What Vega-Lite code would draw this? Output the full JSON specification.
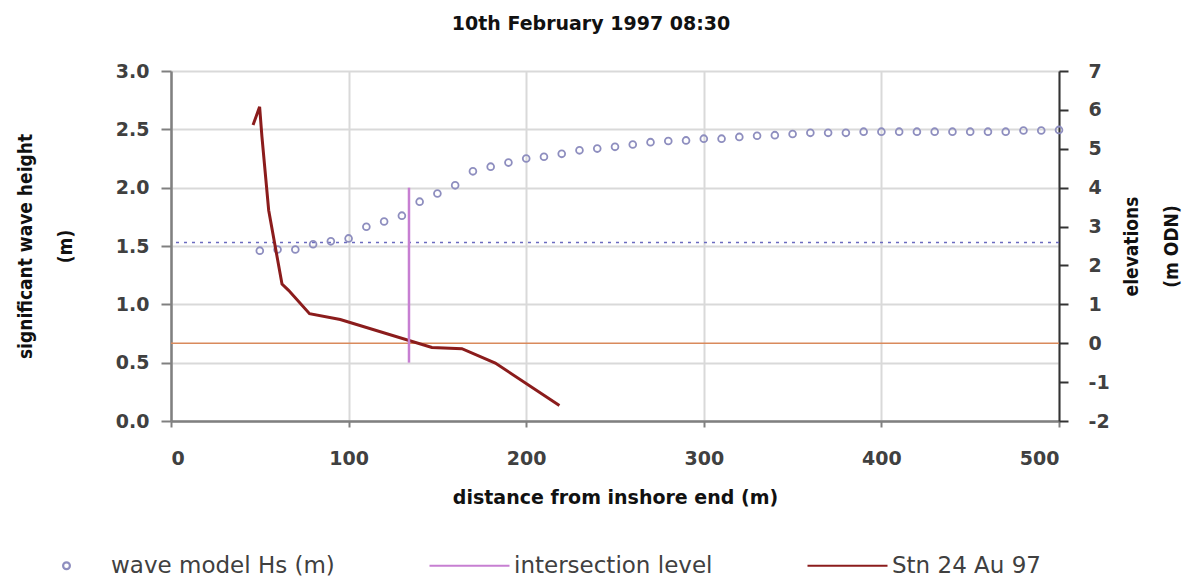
{
  "$schema": "https://vega.github.io/schema/vega-lite/v6.json",
  "width": 888,
  "height": 350,
  "autosize": {"type": "none"},
  "padding": {"left": 171, "top": 71, "right": 126, "bottom": 157},
  "background": "white",
  "config": {"view": {"stroke": null}},
  "title": {"text": "10th February 1997 08:30", "font": "DejaVu Sans", "fontSize": 19, "fontWeight": "bold", "color": "#111111", "anchor": "middle", "dx": -24, "offset": 28},
  "datasets": {
    "wave": [
      {"distance": 50, "hs": 1.46}, {"distance": 60, "hs": 1.47}, {"distance": 70, "hs": 1.47}, {"distance": 80, "hs": 1.515},
      {"distance": 90, "hs": 1.54}, {"distance": 100, "hs": 1.565}, {"distance": 110, "hs": 1.665}, {"distance": 120, "hs": 1.71},
      {"distance": 130, "hs": 1.76}, {"distance": 140, "hs": 1.88}, {"distance": 150, "hs": 1.95}, {"distance": 160, "hs": 2.02},
      {"distance": 170, "hs": 2.14}, {"distance": 180, "hs": 2.18}, {"distance": 190, "hs": 2.215}, {"distance": 200, "hs": 2.25},
      {"distance": 210, "hs": 2.265}, {"distance": 220, "hs": 2.29}, {"distance": 230, "hs": 2.32}, {"distance": 240, "hs": 2.335},
      {"distance": 250, "hs": 2.35}, {"distance": 260, "hs": 2.37}, {"distance": 270, "hs": 2.39}, {"distance": 280, "hs": 2.4},
      {"distance": 290, "hs": 2.405}, {"distance": 300, "hs": 2.42}, {"distance": 310, "hs": 2.42}, {"distance": 320, "hs": 2.435},
      {"distance": 330, "hs": 2.445}, {"distance": 340, "hs": 2.45}, {"distance": 350, "hs": 2.46}, {"distance": 360, "hs": 2.47},
      {"distance": 370, "hs": 2.47}, {"distance": 380, "hs": 2.47}, {"distance": 390, "hs": 2.48}, {"distance": 400, "hs": 2.48},
      {"distance": 410, "hs": 2.48}, {"distance": 420, "hs": 2.48}, {"distance": 430, "hs": 2.48}, {"distance": 440, "hs": 2.48},
      {"distance": 450, "hs": 2.48}, {"distance": 460, "hs": 2.48}, {"distance": 470, "hs": 2.48}, {"distance": 480, "hs": 2.49},
      {"distance": 490, "hs": 2.49}, {"distance": 500, "hs": 2.495}
    ],
    "profile": [
      {"i": 1, "distance": 46.2, "elev": 5.61}, {"i": 2, "distance": 49.9, "elev": 6.08}, {"i": 3, "distance": 51.2, "elev": 5.31},
      {"i": 4, "distance": 55.0, "elev": 3.42}, {"i": 5, "distance": 62.5, "elev": 1.52}, {"i": 6, "distance": 66.2, "elev": 1.36},
      {"i": 7, "distance": 78.0, "elev": 0.76}, {"i": 8, "distance": 95.3, "elev": 0.61}, {"i": 9, "distance": 146.9, "elev": -0.11},
      {"i": 10, "distance": 163.8, "elev": -0.14}, {"i": 11, "distance": 182.6, "elev": -0.51}, {"i": 12, "distance": 218.7, "elev": -1.6}
    ],
    "levels": [{"hs_dotted": 1.53, "odn": 0, "ix": 134, "ilo": -0.5, "ihi": 4}]
  },
  "layer": [
    {
      "layer": [
        {
          "data": {"name": "levels"},
          "mark": {"type": "rule", "color": "#6b6bc0", "strokeDash": [3, 5], "strokeWidth": 1.5},
          "encoding": {
            "y": {"field": "hs_dotted", "type": "quantitative", "scale": {"domain": [0, 3], "nice": false, "zero": false},
              "axis": {"title": ["significant wave height", "(m)"], "values": [0, 0.5, 1, 1.5, 2, 2.5, 3], "format": ".1f",
                "grid": true, "gridColor": "#d9d9d9", "gridWidth": 2,
                "domainColor": "#808080", "domainWidth": 2.5, "tickColor": "#808080", "tickWidth": 2, "tickSize": 10,
                "labelFont": "DejaVu Sans", "labelFontSize": 19, "labelFontWeight": "bold", "labelColor": "#404040", "labelPadding": 12,
                "titleFont": "DejaVu Sans Condensed", "titleFontSize": 19, "titleFontWeight": "bold", "titleColor": "#111111",
                "titleLineHeight": 40, "titlePadding": 40}}
          }
        },
        {
          "data": {"name": "wave"},
          "mark": {"type": "point", "filled": false, "size": 6400, "strokeWidth": 1.8, "opacity": 1},
          "encoding": {
            "x": {"field": "distance", "type": "quantitative", "scale": {"domain": [0, 500], "nice": false},
              "axis": {"title": "distance from inshore end (m)", "values": [0, 100, 200, 300, 400, 500],
                "grid": true, "gridColor": "#d9d9d9", "gridWidth": 2,
                "domainColor": "#808080", "domainWidth": 2.5, "tickColor": "#808080", "tickWidth": 2, "tickSize": 6,
                "labelFont": "DejaVu Sans", "labelFontSize": 19, "labelFontWeight": "bold", "labelColor": "#404040", "labelPadding": 22,
                "titleFont": "DejaVu Sans", "titleFontSize": 19, "titleFontWeight": "bold", "titleColor": "#111111", "titlePadding": 20}},
            "y": {"field": "hs", "type": "quantitative"},
            "color": {"datum": "wave model Hs (m)", "type": "nominal",
              "scale": {"domain": ["wave model Hs (m)", "intersection level", "Stn 24 Au 97"], "range": ["#8e8ebf", "#c77fd2", "#8b1c1c"]},
              "legend": {"orient": "none", "legendX": -146, "legendY": 453, "direction": "horizontal", "title": null,
                "symbolSize": 6400, "symbolStrokeWidth": 2.2,
                "labelFont": "DejaVu Sans", "labelFontSize": 23, "labelColor": "#404040", "labelLimit": 400, "labelOffset": 3,
                "columnPadding": 90}
            },
            "shape": {"datum": "wave model Hs (m)", "type": "nominal",
              "scale": {"domain": ["wave model Hs (m)", "intersection level", "Stn 24 Au 97"],
                "range": ["M -0.085 0 A 0.085 0.085 0 1 0 0.085 0 A 0.085 0.085 0 1 0 -0.085 0 Z", "stroke", "stroke"]},
              "legend": {"orient": "none", "legendX": -146, "legendY": 453, "direction": "horizontal", "title": null,
                "symbolSize": 6400, "symbolStrokeWidth": 2.2,
                "labelFont": "DejaVu Sans", "labelFontSize": 23, "labelColor": "#404040", "labelLimit": 400, "labelOffset": 3,
                "columnPadding": 90}
            }
          }
        }
      ]
    },
    {
      "layer": [
        {
          "data": {"name": "levels"},
          "mark": {"type": "rule", "color": "#d98a5c", "strokeWidth": 1.6},
          "encoding": {
            "y": {"field": "odn", "type": "quantitative", "scale": {"domain": [-2, 7], "nice": false, "zero": false},
              "axis": {"orient": "right", "title": ["elevations", "(m ODN)"], "titleAngle": 270, "values": [-2, -1, 0, 1, 2, 3, 4, 5, 6, 7],
                "labelExpr": "datum.value + ''",
                "grid": false, "domainColor": "#333333", "domainWidth": 2, "tickColor": "#333333", "tickWidth": 2, "tickSize": 9,
                "labelFont": "DejaVu Sans", "labelFontSize": 19, "labelFontWeight": "bold", "labelColor": "#404040", "labelPadding": 20,
                "titleFont": "DejaVu Sans Condensed", "titleFontSize": 19, "titleFontWeight": "bold", "titleColor": "#111111",
                "titleLineHeight": 40, "titlePadding": -8}}
          }
        },
        {
          "data": {"name": "profile"},
          "mark": {"type": "line", "strokeWidth": 3},
          "encoding": {
            "x": {"field": "distance", "type": "quantitative"},
            "y": {"field": "elev", "type": "quantitative",
              "axis": {"orient": "right", "title": ["elevations", "(m ODN)"], "titleAngle": 270, "values": [-2, -1, 0, 1, 2, 3, 4, 5, 6, 7],
                "labelExpr": "datum.value + ''",
                "grid": false, "domainColor": "#333333", "domainWidth": 2, "tickColor": "#333333", "tickWidth": 2, "tickSize": 9,
                "labelFont": "DejaVu Sans", "labelFontSize": 19, "labelFontWeight": "bold", "labelColor": "#404040", "labelPadding": 20,
                "titleFont": "DejaVu Sans Condensed", "titleFontSize": 19, "titleFontWeight": "bold", "titleColor": "#111111",
                "titleLineHeight": 40, "titlePadding": -8}},
            "order": {"field": "i", "type": "quantitative"},
            "color": {"datum": "Stn 24 Au 97", "type": "nominal", "legend": null}
          }
        },
        {
          "data": {"name": "levels"},
          "mark": {"type": "rule", "strokeWidth": 2.5},
          "encoding": {
            "x": {"field": "ix", "type": "quantitative"},
            "y": {"field": "ilo", "type": "quantitative",
              "axis": {"orient": "right", "title": ["elevations", "(m ODN)"], "titleAngle": 270, "values": [-2, -1, 0, 1, 2, 3, 4, 5, 6, 7],
                "labelExpr": "datum.value + ''",
                "grid": false, "domainColor": "#333333", "domainWidth": 2, "tickColor": "#333333", "tickWidth": 2, "tickSize": 9,
                "labelFont": "DejaVu Sans", "labelFontSize": 19, "labelFontWeight": "bold", "labelColor": "#404040", "labelPadding": 20,
                "titleFont": "DejaVu Sans Condensed", "titleFontSize": 19, "titleFontWeight": "bold", "titleColor": "#111111",
                "titleLineHeight": 40, "titlePadding": -8}},
            "y2": {"field": "ihi"},
            "color": {"datum": "intersection level", "type": "nominal", "legend": null}
          }
        }
      ]
    }
  ],
  "resolve": {"scale": {"y": "independent"}}
}
